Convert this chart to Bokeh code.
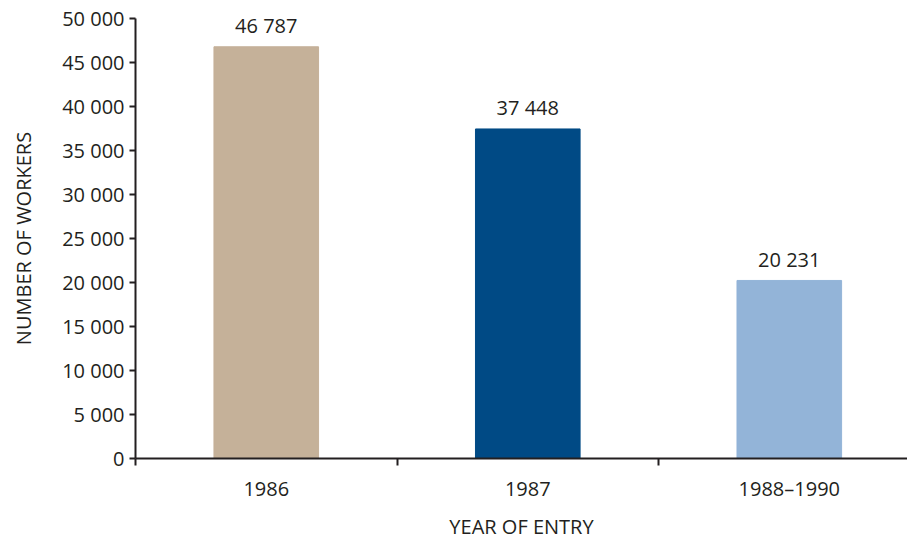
from bokeh.plotting import figure
from bokeh.models import (Range1d, FixedTicker, ColumnDataSource, LabelSet)
from bokeh.core.properties import value
from bokeh.embed import file_html
from bokeh.resources import INLINE

categories = ["1986", "1987", "1988\u20131990"]
workers = [46787, 37448, 20231]
bar_colors = ["#c5b199", "#004a85", "#93b4d8"]
y_ticks = [0, 5000, 10000, 15000, 20000, 25000, 30000, 35000, 40000, 45000, 50000]

FONT = "Open Sans"
TXT = "#231f20"

xpos = [i + 0.5 for i in range(len(categories))]
src = ColumnDataSource(dict(
    x=xpos, top=workers, color=bar_colors,
    label=[f"{v:,}".replace(",", " ") for v in workers],
))

p = figure(width=907, height=542, output_backend="svg", toolbar_location=None,
           x_range=Range1d(0, 2.952), y_range=Range1d(0, 50000),
           min_border_left=135, min_border_right=0, min_border_top=18,
           min_border_bottom=83)
p.outline_line_color = None
p.xgrid.visible = False
p.ygrid.visible = False

p.vbar(x="x", top="top", width=0.40, color="color", source=src)

labels = LabelSet(x="x", y="top", text="label", source=src, y_offset=21,
                  text_align="center", text_baseline="middle",
                  text_font=value(FONT), text_font_size="20px", text_color=TXT)
p.add_layout(labels)

# Y axis
p.yaxis.ticker = FixedTicker(ticks=y_ticks)
p.yaxis.major_label_overrides = {t: f"{t:,}".replace(",", " ") for t in y_ticks}
p.yaxis.axis_line_width = 2
p.yaxis.axis_line_color = TXT
p.yaxis.major_tick_line_color = TXT
p.yaxis.major_tick_line_width = 2
p.yaxis.major_tick_out = 6
p.yaxis.major_tick_in = 0
p.yaxis.minor_tick_line_color = None
p.yaxis.major_label_text_font = FONT
p.yaxis.major_label_text_font_size = "20px"
p.yaxis.major_label_text_color = TXT
p.yaxis.major_label_standoff = 5
p.yaxis.axis_label = "NUMBER OF WORKERS"
p.yaxis.axis_label_text_font = FONT
p.yaxis.axis_label_text_font_size = "20px"
p.yaxis.axis_label_text_font_style = "normal"
p.yaxis.axis_label_text_color = TXT
p.yaxis.axis_label_standoff = 22

# X axis
p.xaxis.ticker = FixedTicker(ticks=xpos, minor_ticks=[0, 1, 2])
p.xaxis.major_label_overrides = {x: c for x, c in zip(xpos, categories)}
p.xaxis.axis_line_width = 2
p.xaxis.axis_line_color = TXT
p.xaxis.major_tick_line_color = None
p.xaxis.major_tick_out = 0
p.xaxis.major_tick_in = 0
p.xaxis.minor_tick_line_color = TXT
p.xaxis.minor_tick_line_width = 2
p.xaxis.minor_tick_out = 7
p.xaxis.minor_tick_in = 0
p.xaxis.major_label_text_font = FONT
p.xaxis.major_label_text_font_size = "20px"
p.xaxis.major_label_text_color = TXT
p.xaxis.major_label_standoff = 9
p.xaxis.axis_label = "YEAR OF ENTRY"
p.xaxis.axis_label_text_font = FONT
p.xaxis.axis_label_text_font_size = "20px"
p.xaxis.axis_label_text_font_style = "normal"
p.xaxis.axis_label_text_color = TXT
p.xaxis.axis_label_standoff = 8

open("out.html", "w").write(file_html(p, INLINE))
